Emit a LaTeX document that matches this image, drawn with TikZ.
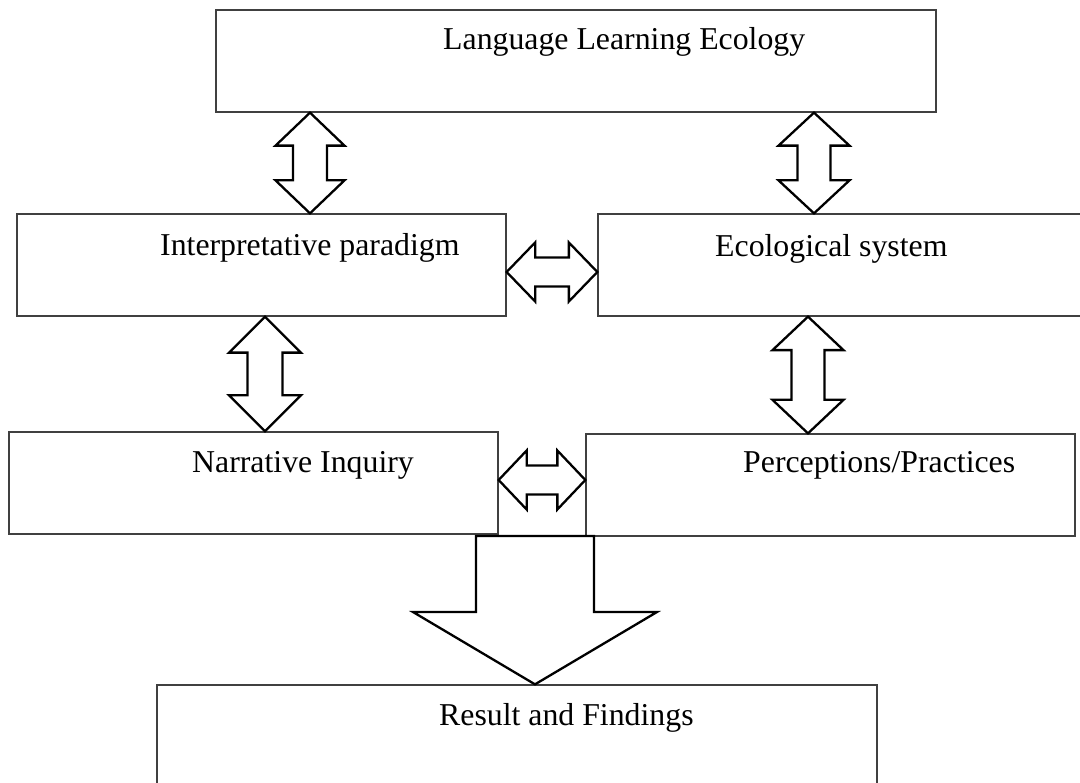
\documentclass[tikz,border=0pt]{standalone}
\usepackage{fontspec}
\setmainfont{Liberation Serif}
\usetikzlibrary{calc}
\tikzset{
  box/.style={draw=black!75, line width=1.3pt, rectangle, inner sep=0pt, fill=white},
  lbl/.style={anchor=base west, inner sep=0pt, font=\fontsize{31.8}{38}\selectfont},
  blk/.style={draw=black, line width=2.3pt, fill=white, line join=miter}
}
\newcommand\vdbl[5]{\draw[blk] let \p1=#1, \p2=#2 in
  (\x1,\y1) -- (\x1+#3pt,\y1-#5pt) -- (\x1+#4pt,\y1-#5pt) -- (\x1+#4pt,\y2+#5pt) -- (\x1+#3pt,\y2+#5pt)
  -- (\x1,\y2) -- (\x1-#3pt,\y2+#5pt) -- (\x1-#4pt,\y2+#5pt) -- (\x1-#4pt,\y1-#5pt) -- (\x1-#3pt,\y1-#5pt) -- cycle;}
\newcommand\hdbl[5]{\draw[blk] let \p1=#1, \p2=#2 in
  (\x1,\y1) -- (\x1+#5pt,\y1+#3pt) -- (\x1+#5pt,\y1+#4pt) -- (\x2-#5pt,\y1+#4pt) -- (\x2-#5pt,\y1+#3pt)
  -- (\x2,\y1) -- (\x2-#5pt,\y1-#3pt) -- (\x2-#5pt,\y1-#4pt) -- (\x1+#5pt,\y1-#4pt) -- (\x1+#5pt,\y1-#3pt) -- cycle;}
\begin{document}
\begin{tikzpicture}[x=1pt,y=-1pt]
\useasboundingbox[fill=white] (0,0) rectangle (1080,783);
\begin{scope}
\clip (0,0) rectangle (1080,783);
% boxes
\node[box, minimum width=720pt, minimum height=102pt] (lle) at (576,61) {};
\node[box, minimum width=489pt, minimum height=102pt] (ip) at (261.5,265) {};
\node[box, minimum width=540pt, minimum height=102pt] (es) at (868,265) {};
\node[box, minimum width=489pt, minimum height=102pt] (ni) at (253.5,483) {};
\node[box, minimum width=489pt, minimum height=102pt] (pp) at (830.5,485) {};
\node[box, minimum width=720pt, minimum height=120pt] (rf) at (517,745) {};
% labels
\node[lbl] (tlle) at (443,50) {Language Learning Ecology};
\node[lbl] (tip) at (160,256) {Interpretative paradigm};
\node[lbl] (tes) at (715,257) {Ecological system};
\node[lbl] (tni) at (192,473) {Narrative Inquiry};
\node[lbl] (tpp) at (743,473) {Perceptions/Practices};
\node[lbl] (trf) at (439,725) {Result and Findings};
% vertical double arrows
\vdbl{(lle.south -| 310,0)}{(ip.north -| 310,0)}{34.5}{17}{33}
\vdbl{(lle.south -| 814,0)}{(es.north -| 814,0)}{35.5}{16.5}{33}
\vdbl{(ip.south -| 265,0)}{(ni.north -| 265,0)}{36}{17.5}{36}
\vdbl{(es.south -| 808,0)}{(pp.north -| 808,0)}{35.5}{16.5}{33.5}
% horizontal double arrows
\hdbl{(ip.east |- 0,272)}{(es.west |- 0,272)}{29.5}{14.5}{28.5}
\hdbl{(ni.east |- 0,480)}{(pp.west |- 0,480)}{29.5}{14.5}{28}
% big down arrow
\coordinate (bt) at (535,536);
\draw[blk] let \p1=(bt), \p2=(rf.north -| bt) in
  (\x1-59pt,\y1) -- (\x1+59pt,\y1) -- (\x1+59pt,\y1-76pt) -- (\x1+122pt,\y1-76pt)
  -- (\x2,\y2) -- (\x1-122pt,\y1-76pt) -- (\x1-59pt,\y1-76pt) -- cycle;
\end{scope}
\end{tikzpicture}
\end{document}
